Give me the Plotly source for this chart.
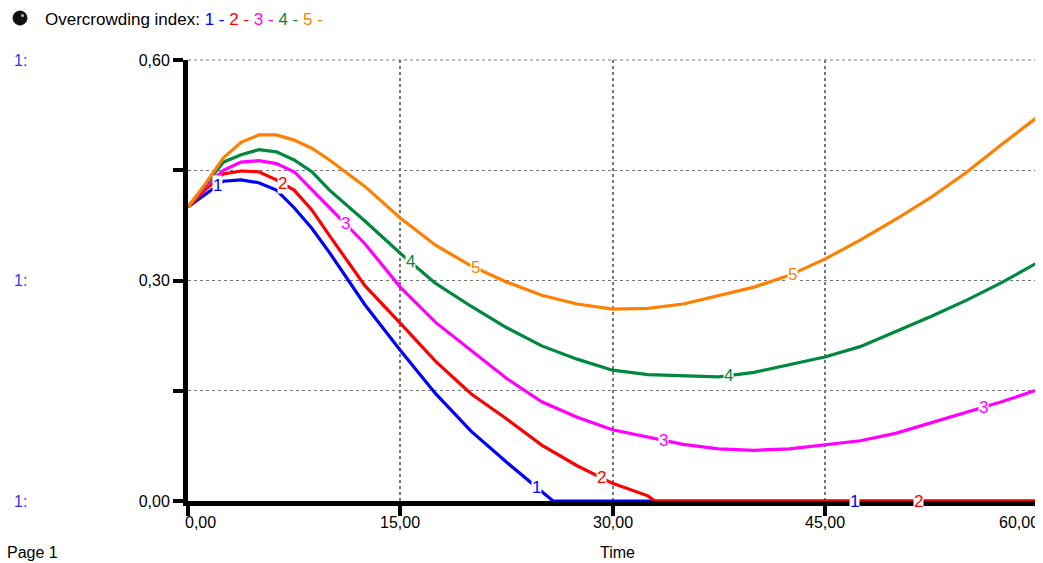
import numpy as np
import plotly.graph_objects as go

# ---- data ----
time_grid = [0, 1.25, 2.5, 3.75, 5, 6.25, 7.5, 8.75, 10, 12.5, 15, 17.5, 20, 22.5, 25,
             27.5, 30, 32.5, 35, 37.5, 40, 42.5, 45, 47.5, 50, 52.5, 55, 57.5, 60]

time_1 = [0, 1.25, 2.5, 3.75, 5, 6.25, 7.5, 8.75, 10, 12.5, 15, 17.5, 20, 22.5, 25, 25.8,
          30, 35, 40, 45, 50, 55, 60]
val_1 = [0.400, 0.418, 0.435, 0.437, 0.433, 0.423, 0.399, 0.371, 0.338, 0.267, 0.205,
         0.146, 0.095, 0.053, 0.012, 0.0, 0.0, 0.0, 0.0, 0.0, 0.0, 0.0, 0.0]

time_2 = [0, 1.25, 2.5, 3.75, 5, 6.25, 7.5, 8.75, 10, 12.5, 15, 17.5, 20, 22.5, 25, 27.5,
          30, 32.5, 33.0, 35, 40, 45, 50, 55, 60]
val_2 = [0.400, 0.424, 0.445, 0.449, 0.448, 0.437, 0.423, 0.396, 0.361, 0.293, 0.242,
         0.190, 0.146, 0.112, 0.076, 0.048, 0.024, 0.007, 0.0, 0.0, 0.0, 0.0, 0.0, 0.0, 0.0]

val_3 = [0.400, 0.428, 0.450, 0.461, 0.463, 0.459, 0.448, 0.423, 0.399, 0.350, 0.291,
         0.243, 0.205, 0.167, 0.135, 0.114, 0.097, 0.087, 0.077, 0.071, 0.069, 0.071,
         0.076, 0.082, 0.092, 0.106, 0.120, 0.135, 0.151]

val_4 = [0.400, 0.430, 0.461, 0.471, 0.478, 0.475, 0.464, 0.448, 0.423, 0.381, 0.337,
         0.296, 0.265, 0.236, 0.211, 0.193, 0.178, 0.172, 0.170, 0.169, 0.175, 0.185,
         0.196, 0.210, 0.230, 0.251, 0.273, 0.297, 0.324]

val_5 = [0.400, 0.432, 0.467, 0.488, 0.498, 0.498, 0.491, 0.480, 0.464, 0.428, 0.385,
         0.348, 0.320, 0.298, 0.280, 0.268, 0.261, 0.262, 0.268, 0.279, 0.291, 0.307,
         0.329, 0.355, 0.383, 0.413, 0.447, 0.485, 0.522]

series_names = ["1", "2", "3", "4", "5"]
series_colors = ["#0000FF", "#FF0000", "#FF00FF", "#00883F", "#FF8000"]
label_times = [[2.1, 24.6, 47.1], [6.7, 29.2, 51.6], [11.1, 33.6, 56.2],
               [15.7, 38.2], [20.3, 42.7]]

x_tick_vals = [0, 15, 30, 45, 60]
x_tick_text = ["0,00", "15,00", "30,00", "45,00", "60,00"]
y_tick_vals = [0, 0.15, 0.30, 0.45, 0.60]
y_tick_text = ["0,00", "", "0,30", "", "0,60"]

title_text = "Overcrowding index:"
x_title = "Time"
page_text = "Page 1"

FONT = "Arial, Liberation Sans, sans-serif"
FS = 16

series_x = [time_1, time_2, time_grid, time_grid, time_grid]
series_y = [val_1, val_2, val_3, val_4, val_5]

fig = go.Figure()
for name, xs, ys, col in zip(series_names, series_x, series_y, series_colors):
    fig.add_trace(go.Scatter(x=xs, y=ys, mode="lines", name=name,
                             line=dict(color=col, width=3.2, shape="linear"),
                             showlegend=False, hoverinfo="skip"))

# page geometry (browser body adds an 8px offset)
OFF = 8
W, H = 1043 - OFF, 563 - OFF
ML, MT = 188 - OFF, 60 - OFF
PW, PH = 849, 441
MR = W - ML - PW
MB = H - MT - PH


def px_x(p):
    return (p - OFF - ML) / PW


def px_y(p):
    return 1 - (p - OFF - MT) / PH


annotations = []
# on-curve numeric labels
for name, xs, ys, col, lts in zip(series_names, series_x, series_y, series_colors, label_times):
    for lt in lts:
        annotations.append(dict(x=lt, y=float(np.interp(lt, xs, ys)), xref="x", yref="y",
                                text=name, showarrow=False, bgcolor="white",
                                font=dict(family=FONT, size=17, color=col),
                                borderpad=0, xanchor="center", yanchor="middle"))

# x tick labels (first and last kept inside like the reference)
for v, t in zip(x_tick_vals, x_tick_text):
    if v == x_tick_vals[0]:
        anc, sh = "left", -5
    elif v == x_tick_vals[-1]:
        anc, sh = "right", 4
    else:
        anc, sh = "center", 0
    annotations.append(dict(x=v, y=px_y(522), xref="x", yref="paper", text=t,
                            showarrow=False, xanchor=anc, yanchor="middle", xshift=sh,
                            font=dict(family=FONT, size=FS, color="black")))

# header legend
hdr = title_text + " " + " ".join(
    f"<span style='color:{c}'>{n} -</span>" for n, c in zip(series_names, series_colors))
annotations.append(dict(x=px_x(43), y=px_y(19), xref="paper", yref="paper", text=hdr,
                        showarrow=False, xanchor="left", yanchor="middle",
                        font=dict(family=FONT, size=17, color="black")))
# "1:" scale labels
for yv in [0.60, 0.30, 0.0]:
    annotations.append(dict(x=px_x(12), y=yv, xref="paper", yref="y", text="1:",
                            showarrow=False, xanchor="left", yanchor="middle",
                            font=dict(family=FONT, size=FS, color="#3333FF")))
annotations.append(dict(x=px_x(617), y=px_y(552), xref="paper", yref="paper", text=x_title,
                        showarrow=False, xanchor="center", yanchor="middle",
                        font=dict(family=FONT, size=FS, color="black")))
annotations.append(dict(x=px_x(5), y=px_y(552), xref="paper", yref="paper", text=page_text,
                        showarrow=False, xanchor="left", yanchor="middle",
                        font=dict(family=FONT, size=FS, color="black")))

fig.update_layout(
    width=W, height=H,
    margin=dict(l=ML, r=MR, t=MT, b=MB, pad=0),
    paper_bgcolor="white", plot_bgcolor="white",
    annotations=annotations,
    font=dict(family=FONT, size=FS, color="black"),
    shapes=[
        dict(type="line", xref="paper", yref="paper", x0=0, x1=1, y0=1, y1=1,
             line=dict(color="#777", width=1, dash="dot"), layer="below"),
        dict(type="line", xref="paper", yref="paper", x0=1, x1=1, y0=0, y1=1,
             line=dict(color="#777", width=2, dash="dot"), layer="below"),
        # header icon (dark ball)
        dict(type="circle", xref="paper", yref="paper",
             x0=px_x(13), x1=px_x(27), y0=px_y(25), y1=px_y(11),
             fillcolor="#111", line=dict(color="#111", width=1)),
        dict(type="circle", xref="paper", yref="paper",
             x0=px_x(21), x1=px_x(24), y0=px_y(17), y1=px_y(14),
             fillcolor="#bbb", line=dict(width=0)),
    ],
)
fig.update_xaxes(range=[0, 60], tickvals=x_tick_vals, ticktext=[""] * len(x_tick_vals),
                 showgrid=True, gridcolor="#777", griddash="dot", gridwidth=1.5,
                 showline=True, linecolor="black", linewidth=5,
                 ticks="outside", ticklen=10, tickwidth=4, tickcolor="black",
                 zeroline=False, tickfont=dict(family=FONT, size=FS))
fig.update_yaxes(range=[0, 0.6], tickvals=y_tick_vals, ticktext=y_tick_text,
                 showgrid=True, gridcolor="#777", griddash="dot", gridwidth=1,
                 showline=True, linecolor="black", linewidth=5,
                 ticks="outside", ticklen=10, tickwidth=4, tickcolor="black",
                 zeroline=False, tickfont=dict(family=FONT, size=FS))

fig.write_html("out.html")
